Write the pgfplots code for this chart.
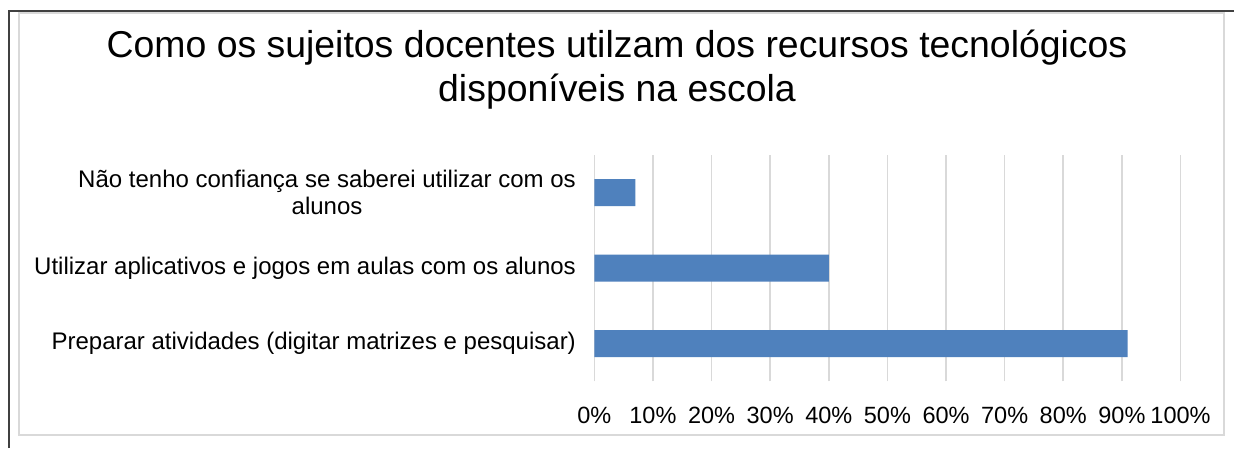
\documentclass[border=0pt]{standalone}
\usepackage{pgfplots}
\pgfplotsset{compat=1.18}
\usepackage{fontspec}
\setmainfont{Liberation Sans}
\definecolor{barblue}{HTML}{4F81BD}
\definecolor{gridgray}{HTML}{D9D9D9}
\definecolor{framedark}{HTML}{404040}
\begin{document}
\begin{tikzpicture}[x=1pt,y=1pt]
\useasboundingbox (0,0) rectangle (1234,448);
\fill[white] (0,0) rectangle (1234,448);
% chart area frame (light gray) and outer dark lines
\draw[gridgray, line width=2pt] (19,13) rectangle (1224,435);
\draw[framedark, line width=2pt] (9,0) -- (9,437) -- (1234,437);
% title
\node[anchor=base, font=\fontsize{37.4}{44}\selectfont] at (617,390) {Como os sujeitos docentes utilzam dos recursos tecnológicos};
\node[anchor=base, font=\fontsize{37.4}{44}\selectfont] at (617,346) {disponíveis na escola};
\begin{axis}[
  at={(594.3pt,66.75pt)}, anchor=south west,
  scale only axis,
  width=586.2pt, height=226.5pt,
  xmin=0, xmax=100, ymin=-0.5, ymax=2.5,
  axis line style={draw=none},
  xbar, bar width=27pt,
  xtick={0,10,...,100},
  xticklabels={0\%,10\%,20\%,30\%,40\%,50\%,60\%,70\%,80\%,90\%,100\%},
  ytick={0,1,2},
  yticklabels={Preparar atividades (digitar matrizes e pesquisar),Utilizar aplicativos e jogos em aulas com os alunos,{Não tenho confiança se saberei utilizar com os\\alunos}},
  xtick pos=bottom, ytick pos=left,
  xmajorgrids,
  major grid style={gridgray, line width=1.6pt},
  tick style={draw=none},
  xticklabel style={anchor=base, inner sep=0pt, yshift=-41.75pt, font=\fontsize{23.5}{27}\selectfont},
  yticklabel style={anchor=east, inner sep=0pt, xshift=-14pt, align=center, font=\fontsize{24}{27.5}\selectfont},
  clip=false,
]
\addplot[fill=barblue, draw=none] coordinates {(91,0) (40,1) (7,2)};
\end{axis}
\end{tikzpicture}
\end{document}
